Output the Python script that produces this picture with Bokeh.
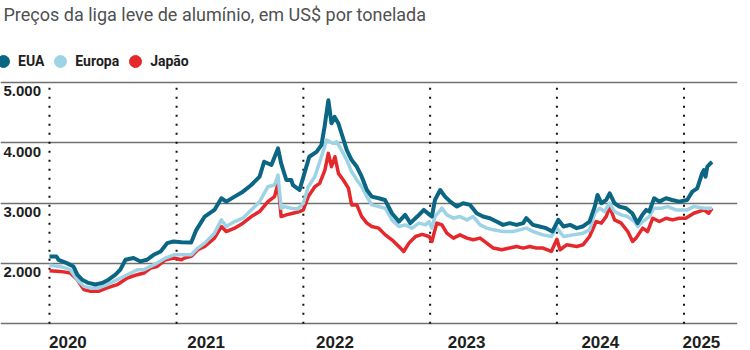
import pandas as pd
from bokeh.plotting import figure
from bokeh.models import (FixedTicker, DatetimeTickFormatter, Legend, LegendItem,
                          Label, Range1d)
from bokeh.core.properties import value
from bokeh.embed import file_html
from bokeh.resources import INLINE

title_text = "Preços da liga leve de alumínio, em US$ por tonelada"
series_names = ["EUA", "Europa", "Japão"]

eua_dates = [
    "2020-01-01", "2020-01-21", "2020-01-27", "2020-02-20", "2020-03-10", "2020-03-21",
    "2020-04-04", "2020-04-22", "2020-05-12", "2020-06-01", "2020-06-19", "2020-07-09",
    "2020-07-23", "2020-08-07", "2020-08-30", "2020-09-19", "2020-10-08", "2020-10-27",
    "2020-11-16", "2020-12-05", "2020-12-23", "2021-01-15", "2021-02-12", "2021-02-27",
    "2021-03-23", "2021-04-20", "2021-05-10", "2021-05-24", "2021-06-17", "2021-07-11",
    "2021-08-04", "2021-08-28", "2021-09-10", "2021-10-01", "2021-10-20", "2021-10-29",
    "2021-11-13", "2021-11-27", "2021-12-02", "2021-12-21", "2022-01-04", "2022-01-18",
    "2022-02-08", "2022-02-22", "2022-03-03", "2022-03-14", "2022-03-23", "2022-04-01",
    "2022-04-12", "2022-04-21", "2022-05-06", "2022-05-20", "2022-06-04", "2022-06-18",
    "2022-07-03", "2022-07-17", "2022-08-06", "2022-08-24", "2022-09-13", "2022-10-03",
    "2022-10-21", "2022-11-05", "2022-11-25", "2022-12-14", "2022-12-31", "2023-01-06",
    "2023-01-15", "2023-01-30", "2023-02-13", "2023-02-28", "2023-03-19", "2023-04-06",
    "2023-04-26", "2023-05-15", "2023-06-02", "2023-06-22", "2023-07-11", "2023-07-30",
    "2023-08-18", "2023-09-07", "2023-09-26", "2023-10-05", "2023-10-24", "2023-11-12",
    "2023-12-01", "2023-12-19", "2024-01-05", "2024-01-20", "2024-02-08", "2024-02-27",
    "2024-03-15", "2024-04-04", "2024-04-19", "2024-04-27", "2024-05-08", "2024-05-22",
    "2024-06-01", "2024-06-15", "2024-06-29", "2024-07-18", "2024-08-05", "2024-08-20",
    "2024-09-03", "2024-09-14", "2024-09-23", "2024-10-07", "2024-10-22", "2024-11-10",
    "2024-11-28", "2024-12-18", "2025-01-10", "2025-01-25", "2025-02-08", "2025-02-22",
    "2025-02-27", "2025-03-04", "2025-03-09", "2025-03-18", "2025-03-23",
]
eua_values = [
    2115, 2115, 2060, 2005, 1950, 1813,
    1730, 1677, 1650, 1677, 1730, 1813,
    1896, 2061, 2089, 2033, 2061, 2143,
    2198, 2336, 2363, 2350, 2345, 2556,
    2776, 2886, 3079, 3023, 3106, 3188,
    3298, 3436, 3683, 3629, 3904, 3657,
    3381, 3381, 3298, 3216, 3491, 3766,
    3848, 3959, 4261, 4701, 4320, 4426,
    4316, 4151, 3876, 3711, 3600, 3436,
    3216, 3106, 3079, 3051, 2831, 2693,
    2804, 2667, 2776, 2886, 2804, 2776,
    3051, 3216, 3106, 3023, 2941, 2996,
    2969, 2831, 2776, 2749, 2693, 2638,
    2667, 2638, 2667, 2749, 2638, 2611,
    2584, 2528, 2721, 2611, 2638, 2584,
    2611, 2693, 2941, 3134, 2996, 3051,
    3161, 2996, 2941, 2914, 2831, 2667,
    2804, 2886, 2859, 3079, 3023, 3079,
    3051, 3023, 3051, 3188, 3243, 3491,
    3546, 3436, 3601, 3657, 3680,
]

europa_dates = [
    "2020-01-01", "2020-02-01", "2020-03-01", "2020-03-21", "2020-04-09", "2020-04-28",
    "2020-05-21", "2020-06-15", "2020-07-14", "2020-08-12", "2020-09-10", "2020-09-29",
    "2020-10-18", "2020-11-06", "2020-11-30", "2020-12-24", "2021-01-15", "2021-02-12",
    "2021-03-03", "2021-03-23", "2021-04-20", "2021-05-10", "2021-05-24", "2021-06-17",
    "2021-07-11", "2021-08-04", "2021-08-28", "2021-09-21", "2021-10-10", "2021-10-20",
    "2021-10-29", "2021-11-08", "2021-11-27", "2021-12-16", "2022-01-01", "2022-01-15",
    "2022-02-03", "2022-02-22", "2022-03-09", "2022-03-18", "2022-03-28", "2022-04-07",
    "2022-04-21", "2022-05-06", "2022-05-20", "2022-06-04", "2022-06-18", "2022-07-03",
    "2022-07-17", "2022-08-06", "2022-08-25", "2022-09-13", "2022-10-03", "2022-10-22",
    "2022-11-10", "2022-11-30", "2022-12-19", "2022-12-29", "2023-01-06", "2023-01-15",
    "2023-02-04", "2023-02-18", "2023-03-09", "2023-03-28", "2023-04-17", "2023-05-05",
    "2023-05-25", "2023-06-13", "2023-07-02", "2023-07-30", "2023-08-28", "2023-09-16",
    "2023-10-05", "2023-10-24", "2023-11-22", "2023-12-16", "2024-01-01", "2024-01-20",
    "2024-02-17", "2024-03-16", "2024-04-04", "2024-04-19", "2024-05-03", "2024-05-17",
    "2024-06-01", "2024-06-15", "2024-07-04", "2024-07-23", "2024-08-11", "2024-08-21",
    "2024-09-04", "2024-09-23", "2024-10-07", "2024-10-27", "2024-11-15", "2024-12-09",
    "2025-01-10", "2025-01-29", "2025-02-27", "2025-03-23",
]
europa_values = [
    1970, 1950, 1896, 1730, 1620, 1594,
    1594, 1648, 1730, 1813, 1896, 1896,
    1950, 2005, 2089, 2143, 2143, 2143,
    2254, 2336, 2501, 2721, 2611, 2693,
    2749, 2886, 3023, 3270, 3298, 3463,
    2914, 2941, 2914, 2900, 2996, 3270,
    3436, 3766, 4041, 4013, 3987, 4013,
    3876, 3711, 3518, 3381, 3270, 3106,
    2969, 2941, 2914, 2721, 2611, 2638,
    2584, 2667, 2638, 2693, 2584, 2776,
    2914, 2804, 2749, 2776, 2721, 2776,
    2638, 2584, 2556, 2528, 2528, 2556,
    2584, 2528, 2473, 2446, 2584, 2446,
    2473, 2501, 2556, 2831, 2914, 2859,
    2996, 2859, 2804, 2776, 2693, 2611,
    2693, 2776, 2914, 2914, 2941, 2886,
    2886, 2941, 2914, 2914,
]

japao_dates = [
    "2020-01-01", "2020-02-01", "2020-03-01", "2020-03-21", "2020-04-09", "2020-04-28",
    "2020-05-21", "2020-06-15", "2020-07-14", "2020-08-12", "2020-09-10", "2020-09-29",
    "2020-10-18", "2020-11-06", "2020-11-30", "2020-12-24", "2021-01-15", "2021-01-24",
    "2021-02-12", "2021-03-03", "2021-03-23", "2021-04-20", "2021-05-10", "2021-05-24",
    "2021-06-17", "2021-07-11", "2021-08-04", "2021-08-28", "2021-09-21", "2021-10-10",
    "2021-10-20", "2021-10-29", "2021-11-13", "2021-12-02", "2021-12-21", "2022-01-01",
    "2022-01-15", "2022-02-03", "2022-02-17", "2022-03-04", "2022-03-14", "2022-03-23",
    "2022-04-02", "2022-04-12", "2022-04-26", "2022-05-11", "2022-05-20", "2022-06-04",
    "2022-06-18", "2022-07-03", "2022-07-17", "2022-08-06", "2022-08-25", "2022-09-13",
    "2022-10-03", "2022-10-17", "2022-11-01", "2022-11-20", "2022-12-09", "2022-12-29",
    "2023-01-06", "2023-01-20", "2023-02-04", "2023-02-18", "2023-03-09", "2023-03-28",
    "2023-04-17", "2023-05-05", "2023-05-25", "2023-06-13", "2023-07-02", "2023-07-26",
    "2023-08-18", "2023-09-07", "2023-09-26", "2023-10-15", "2023-11-03", "2023-11-22",
    "2023-12-16", "2024-01-01", "2024-01-10", "2024-01-29", "2024-02-27", "2024-03-16",
    "2024-04-04", "2024-04-23", "2024-05-08", "2024-05-22", "2024-06-01", "2024-06-15",
    "2024-07-04", "2024-07-23", "2024-08-06", "2024-08-16", "2024-09-04", "2024-09-18",
    "2024-10-03", "2024-10-22", "2024-11-10", "2024-11-29", "2024-12-18", "2025-01-06",
    "2025-01-29", "2025-02-27", "2025-03-13", "2025-03-23",
]
japao_values = [
    1880, 1868, 1841, 1730, 1566, 1538,
    1538, 1594, 1648, 1758, 1813, 1841,
    1924, 1950, 2061, 2089, 2061, 2089,
    2116, 2226, 2281, 2419, 2611, 2528,
    2584, 2667, 2776, 2859, 3023, 3106,
    3326, 2776, 2804, 2831, 2859, 2886,
    3106, 3270, 3326, 3546, 3822, 3601,
    3766, 3491, 3381, 3243, 2969, 2969,
    2776, 2667, 2611, 2584, 2473, 2391,
    2281, 2198, 2336, 2446, 2480, 2446,
    2363, 2667, 2638, 2501, 2419, 2473,
    2419, 2391, 2419, 2336, 2254, 2226,
    2254, 2281, 2254, 2281, 2254, 2254,
    2198, 2400, 2226, 2308, 2281, 2308,
    2446, 2693, 2667, 2776, 2941, 2721,
    2667, 2528, 2363, 2419, 2584, 2528,
    2749, 2693, 2749, 2721, 2749, 2749,
    2831, 2886, 2831, 2914,
]

y_ticks = [1000, 2000, 3000, 4000, 5000]
y_tick_labels = ["2.000", "3.000", "4.000", "5.000"]  # for 2000..5000
year_starts = ["2020-01-01", "2021-01-01", "2022-01-01", "2023-01-01", "2024-01-01", "2025-01-01"]
year_label_dates = ["2020-02-23", "2021-03-27", "2022-04-02", "2023-04-16", "2024-05-05", "2025-02-20"]

colors = {"EUA": "#0b6684", "Europa": "#9dd3e4", "Japão": "#e5282b"}

x_start = pd.Timestamp("2019-08-13")
x_end = pd.Timestamp("2025-06-04")

p = figure(width=750, height=350, x_axis_type="datetime", output_backend="svg",
           toolbar_location=None,
           x_range=Range1d(x_start, x_end), y_range=Range1d(955.4, 6353.7),
           min_border_left=0, min_border_right=13, min_border_top=0, min_border_bottom=23)
p.outline_line_color = None
p.background_fill_color = "white"
p.border_fill_color = "white"

p.yaxis.visible = False
p.xgrid.visible = False
p.ygrid.ticker = FixedTicker(ticks=y_ticks)
p.ygrid.grid_line_color = "#707070"
p.ygrid.grid_line_width = 1.5

tick_ms = [pd.Timestamp(d).timestamp() * 1000 for d in year_label_dates]
p.xaxis.ticker = FixedTicker(ticks=tick_ms)
p.xaxis.formatter = DatetimeTickFormatter(
    years="%Y", months="%Y", days="%Y", hours="%Y", minutes="%Y", seconds="%Y",
    milliseconds="%Y", microseconds="%Y", hourmin="%Y", minsec="%Y")
p.xaxis.axis_line_color = None
p.xaxis.major_tick_line_color = None
p.xaxis.minor_tick_line_color = None
p.xaxis.major_label_standoff = 3
p.xaxis.major_label_text_font = "Liberation Sans"
p.xaxis.major_label_text_font_style = "bold"
p.xaxis.major_label_text_font_size = "17px"
p.xaxis.major_label_text_color = "#1e1e1e"

# dotted year separators
ys = pd.to_datetime(year_starts)
p.segment(x0=ys, x1=ys, y0=[y_ticks[0]] * len(ys), y1=[y_ticks[-1]] * len(ys),
          line_color="#111111", line_width=2, line_dash="2 7")

# y tick labels inside the plot
p.text(x=[x_start] * len(y_tick_labels), y=y_ticks[1:], text=y_tick_labels,
       x_offset=3, y_offset=4, text_baseline="top", text_align="left",
       text_font=value("Liberation Sans"), text_font_style="bold",
       text_font_size="15px", text_color="#1e1e1e")

p.line(pd.to_datetime(japao_dates), japao_values, line_color=colors["Japão"],
       line_width=3.5, line_join="round")
p.line(pd.to_datetime(europa_dates), europa_values, line_color=colors["Europa"],
       line_width=3.5, line_join="round")
p.line(pd.to_datetime(eua_dates), eua_values, line_color=colors["EUA"],
       line_width=4, line_join="round")

# legend swatches: one off-range point per series (clipped), used only by the legend
items = []
for name in series_names:
    s = p.scatter(x=[x_start - pd.Timedelta(days=400)], y=[0], marker="circle", size=12,
                  fill_color=colors[name], line_color=colors[name])
    items.append(LegendItem(label=name, renderers=[s]))

legend = Legend(items=items, orientation="horizontal", location=(-12, 250),
                glyph_width=30, glyph_height=30, label_standoff=0, spacing=1,
                padding=0, margin=0, border_line_color=None, background_fill_alpha=0,
                label_text_font="Roboto", label_text_font_style="bold",
                label_text_font_size="14px", label_text_color="#1e1e1e")
p.add_layout(legend)

title = Label(x=3, y=312, x_units="screen", y_units="screen", text=title_text,
              text_font="Roboto", text_font_size="18px",
              text_color="#505050", text_baseline="alphabetic")
p.add_layout(title)

open("out.html", "w").write(file_html(p, INLINE))
